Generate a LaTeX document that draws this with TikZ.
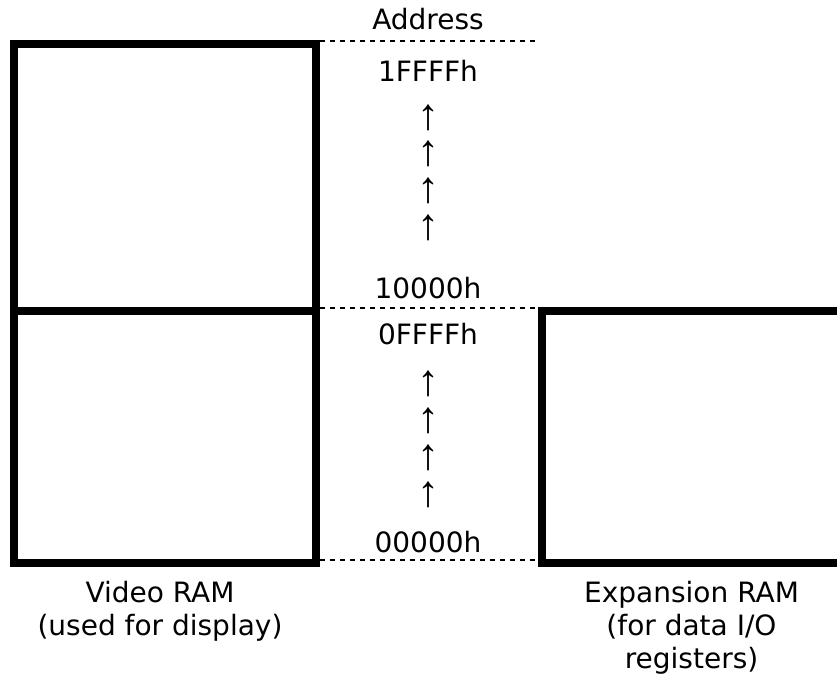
\documentclass[tikz,border=0pt]{standalone}
\usepackage{fontspec}
\setmainfont{DejaVu Sans}
\newfontfamily\arrowfont{Liberation Sans}
\usetikzlibrary{positioning}

\tikzset{
  ram/.style={line width=6pt, line join=miter},
  level/.style={line width=1.1pt, dash pattern=on 3.75pt off 3.75pt},
  lbl/.style={font=\fontsize{21pt}{24.75pt}\selectfont, inner sep=0pt, anchor=base, align=center},
  uparrow/.style={font=\arrowfont\fontsize{33pt}{34pt}\selectfont, inner sep=0pt},
}

\begin{document}
\begin{tikzpicture}[x=0.75pt, y=-0.75pt]
\useasboundingbox (0,0) rectangle (837,681) ;

% memory blocks
\coordinate (vtop) at (13.5,44) ;
\coordinate (vmid) at (316,311) ;
\coordinate (vbot) at (316,563) ;
\coordinate (etop) at (541.5,311) ;
\coordinate (ebot) at (541.5,563) ;
\draw[ram] (vtop) rectangle (vmid) ;
\draw[ram] (13.5,311) rectangle (vbot) ;
\draw[ram] (860,311) -- (etop) -- (ebot) -- (860,563) ;

% address levels
\coordinate (l1a) at (320,41) ;
\coordinate (l1b) at (540,41) ;
\coordinate (l2a) at (320,308) ;
\coordinate (l2b) at (537,308) ;
\coordinate (l3a) at (320,560) ;
\coordinate (l3b) at (537,560) ;
\draw[level] (l1a) -- (l1b) ;
\draw[level] (l2a) -- (l2b) ;
\draw[level] (l3a) -- (l3b) ;

\node[lbl] at (428,30) (addr) {Address} ;
\node[lbl] at (428,82) (hi1) {1FFFFh} ;
\node[lbl] at (428,298) (lo1) {10000h} ;
\node[lbl] at (428,344) (hi0) {0FFFFh} ;
\node[lbl] at (428,552) (lo0) {00000h} ;

\foreach \y/\n in {118/u1, 153.5/u2, 191/u3, 228/u4, 384/d1, 421/d2, 458/d3, 495/d4}
  \node[uparrow] at (428,\y) (\n) {↑} ;

% captions (base = last line)
\node[lbl] at (160,635) (video) {Video RAM\\(used for display)} ;
\node[lbl] at (691.5,668) (expan) {Expansion RAM\\(for data I/O\\registers)} ;
\end{tikzpicture}
\end{document}
